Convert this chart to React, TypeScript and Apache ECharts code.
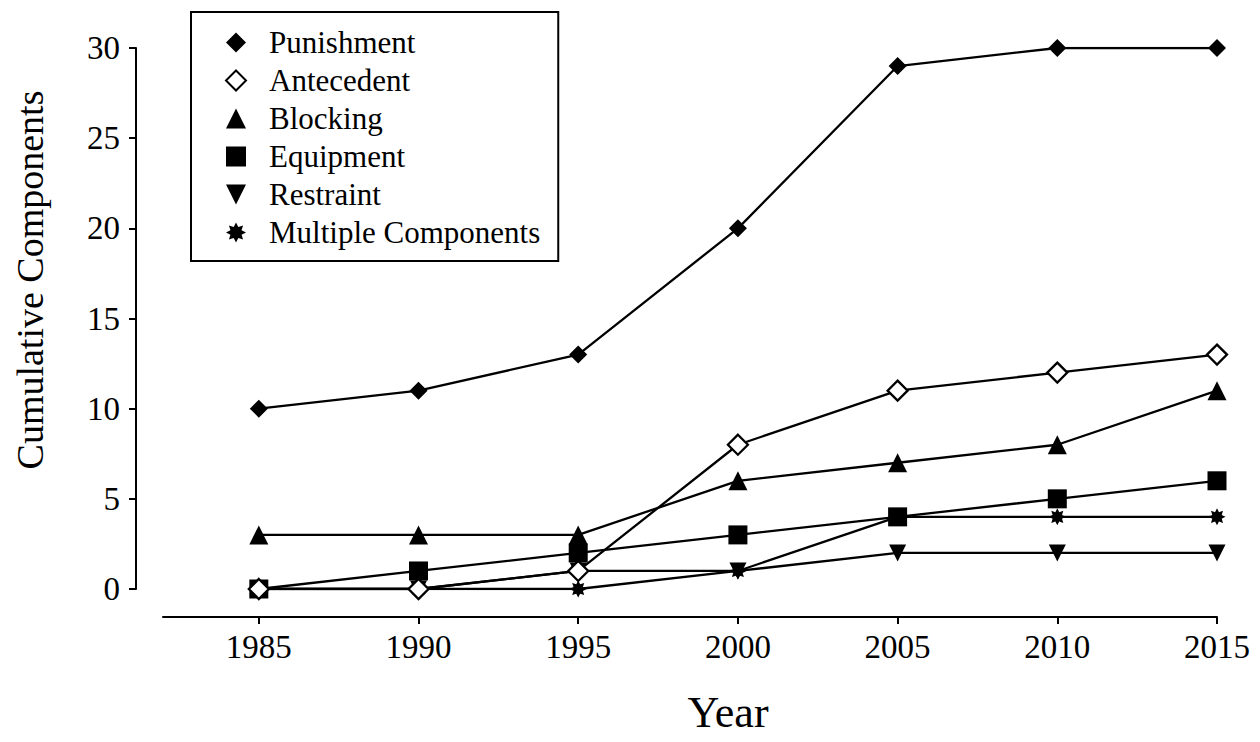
import React, { useEffect, useRef } from "react";
import * as echarts from "echarts";

const years = [1985, 1990, 1995, 2000, 2005, 2010, 2015];
const punishment = [10, 11, 13, 20, 29, 30, 30];
const antecedent = [0, 0, 1, 8, 11, 12, 13];
const blocking = [3, 3, 3, 6, 7, 8, 11];
const equipment = [0, 1, 2, 3, 4, 5, 6];
const restraint = [0, 0, 1, 1, 2, 2, 2];
const multiple = [0, 0, 0, 1, 4, 4, 4];
const yTicks = [0, 5, 10, 15, 20, 25, 30];
const legendOrder = ["Punishment", "Antecedent", "Blocking", "Equipment", "Restraint", "Multiple Components"];

function starPath(): string {
  const pts: string[] = [];
  for (let k = 0; k < 16; k++) {
    const r = k % 2 === 0 ? 10 : 6;
    const a = (k * Math.PI) / 8;
    pts.push(`${(10 + r * Math.cos(a)).toFixed(2)} ${(10 + r * Math.sin(a)).toFixed(2)}`);
  }
  return "path://M" + pts.join(" L") + " Z";
}

const FONT = "Liberation Serif";

export default function App() {
  const ref = useRef<HTMLDivElement>(null);
  useEffect(() => {
    if (!ref.current) return;
    const chart = echarts.init(ref.current, null, { renderer: "svg" });
    const star = starPath();
    const pair = (arr: number[]) => years.map((y, i) => [y, arr[i]]);
    const mk = (name: string, arr: number[], symbol: string, size: number, fill = "#000") => ({
      name,
      type: "line",
      data: pair(arr),
      symbol,
      symbolSize: size,
      showSymbol: true,
      lineStyle: { color: "#000", width: 2.3 },
      itemStyle: { color: fill, borderColor: "#000", borderWidth: fill === "#000" ? 0 : 2.3 },
      emphasis: { disabled: true },
    });
    const icons: Record<string, string> = {
      Punishment: "diamond",
      Antecedent: "diamond",
      Blocking: "triangle",
      Equipment: "rect",
      Restraint: "path://M0 0 L20 0 L10 20 Z",
      "Multiple Components": star,
    };
    chart.setOption({
      animation: false,
      backgroundColor: "#fff",
      textStyle: { fontFamily: FONT },
      grid: { left: 163, right: 43, top: 48, bottom: 153, containLabel: false },
      legend: {
        orient: "vertical",
        left: 191,
        top: 12,
        padding: [15, 18, 13, 34],
        borderColor: "#000",
        borderWidth: 2,
        itemWidth: 20,
        itemHeight: 20,
        itemGap: 7,
        selectedMode: false,
        textStyle: { fontFamily: FONT, fontSize: 31, color: "#000", lineHeight: 29, padding: [0, 0, 0, 18] },
        data: legendOrder.map((n) => ({ name: n, icon: icons[n] })),
      },
      xAxis: {
        type: "value",
        min: 1982,
        max: 2015,
        offset: 28,
        splitLine: { show: false },
        axisLine: { onZero: false, lineStyle: { color: "#000", width: 2 } },
        axisTick: { customValues: years, length: 7, lineStyle: { color: "#000", width: 2 } },
        axisLabel: {
          customValues: years,
          fontFamily: FONT,
          fontSize: 33,
          color: "#000",
          margin: 13,
          formatter: (v: number) => String(v),
        },
      },
      yAxis: {
        type: "value",
        min: 0,
        max: 30,
        interval: 5,
        offset: 27,
        splitLine: { show: false },
        axisLine: { show: true, onZero: false, lineStyle: { color: "#000", width: 2 } },
        axisTick: { show: true, length: 7, lineStyle: { color: "#000", width: 2 } },
        axisLabel: {
          fontFamily: FONT,
          fontSize: 33,
          color: "#000",
          margin: 16,
          formatter: (v: number) => (yTicks.includes(v) ? String(v) : ""),
        },
      },
      graphic: [
        {
          type: "text",
          x: 728,
          y: 712,
          style: { text: "Year", fontFamily: FONT, fontSize: 44, align: "center", verticalAlign: "middle", fill: "#000" },
        },
        {
          type: "text",
          x: 30,
          y: 280,
          rotation: Math.PI / 2,
          style: {
            text: "Cumulative Components",
            fontFamily: FONT,
            fontSize: 38,
            align: "center",
            verticalAlign: "middle",
            fill: "#000",
          },
        },
      ],
      series: [
        mk("Restraint", restraint, icons.Restraint, 17),
        mk("Multiple Components", multiple, star, 17),
        mk("Blocking", blocking, "triangle", 19),
        mk("Equipment", equipment, "rect", 19),
        mk("Antecedent", antecedent, "diamond", 20, "#fff"),
        mk("Punishment", punishment, "diamond", 18),
      ],
    });
    return () => chart.dispose();
  }, []);
  return <div ref={ref} style={{ position: "fixed", left: 0, top: 0, width: 1260, height: 742 }} />;
}
